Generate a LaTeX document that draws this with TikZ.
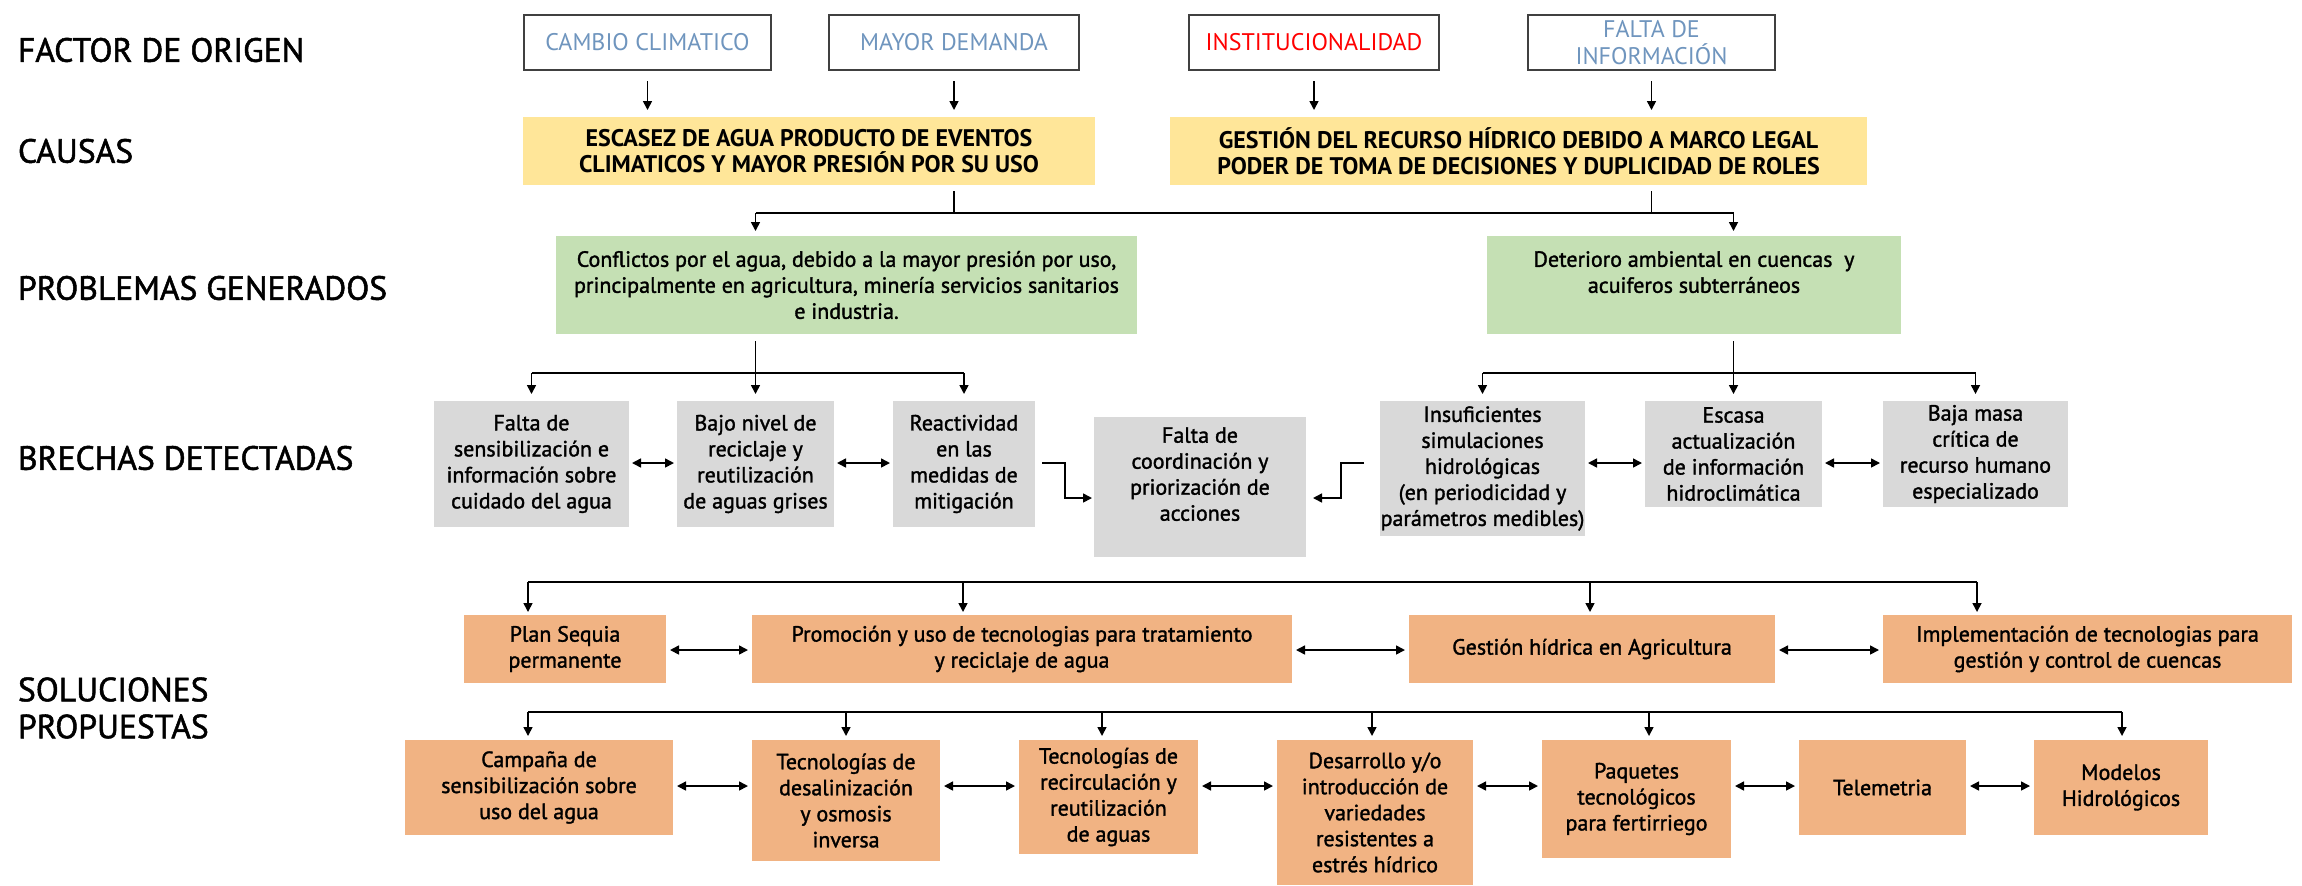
\documentclass[tikz,border=0pt]{standalone}
\usepackage{fontspec}
\setmainfont{PT Sans}
\newfontfamily\medfont{PT Sans}[FakeBold=1.5]
\usetikzlibrary{arrows.meta}

\definecolor{causefill}{HTML}{FFE699}
\definecolor{probfill}{HTML}{C5E0B4}
\definecolor{gapfill}{HTML}{D9D9D9}
\definecolor{solfill}{HTML}{F1B383}
\definecolor{factorblue}{HTML}{6F95BE}

% box from corner (x1,y1) to (x2,y2), units of the picture grid
\newcommand\placebox[7]{%
  \pgfmathsetmacro\bxw{(#5-#3)*0.5}%
  \pgfmathsetmacro\bxh{(#6-#4)*0.5}%
  \node[#2, minimum width=\bxw pt, minimum height=\bxh pt] (#1) at ({(#3+#5)/2},{(#4+#6)/2}) {#7};}

\tikzset{
  every node/.style={inner sep=0pt, outer sep=0pt},
  rowlabel/.style={anchor=west, align=left, font=\medfont\fontsize{16.8}{18.5}\selectfont},
  factor/.style={draw=black!75, line width=0.9pt, fill=white, align=center, text=factorblue,
                 font=\fontsize{12}{13.5}\selectfont},
  cause/.style={fill=causefill, align=center, font=\bfseries\fontsize{12}{13}\selectfont},
  boxtext/.style={align=center, font=\medfont\fontsize{11}{13}\selectfont},
  prob/.style={boxtext, fill=probfill},
  gapbox/.style={boxtext, fill=gapfill},
  solbox/.style={boxtext, fill=solfill},
  ln/.style={line width=0.8pt, draw=black},
  arr/.style={ln, -{Triangle[length=4.5pt,width=4.5pt]}},
  dbl/.style={ln, {Triangle[length=4.5pt,width=4.5pt]}-{Triangle[length=4.5pt,width=4.5pt]}},
}

\begin{document}
\begin{tikzpicture}[x=0.5pt, y=-0.5pt]
\useasboundingbox (0,0) rectangle (2302,885);

% row titles
\node[rowlabel] (lFactor) at (18,50) {FACTOR DE ORIGEN};
\node[rowlabel] (lCausas) at (18,151) {CAUSAS};
\node[rowlabel] (lProb) at (18,288) {PROBLEMAS GENERADOS};
\node[rowlabel] (lBrechas) at (18,458) {BRECHAS DETECTADAS};
\node[rowlabel] (lSol) at (18,708) {SOLUCIONES\\PROPUESTAS};

% origin factors
\placebox{f1}{factor}{524}{15}{771}{70}{CAMBIO CLIMATICO}
\placebox{f2}{factor}{829}{15}{1079}{70}{MAYOR DEMANDA}
\placebox{f3}{factor, text=red}{1189}{15}{1439}{70}{INSTITUCIONALIDAD}
\placebox{f4}{factor}{1528}{15}{1775}{70}{FALTA DE\\INFORMACIÓN}

% causes
\placebox{c1}{cause}{523}{117}{1095}{185}{ESCASEZ DE AGUA PRODUCTO DE EVENTOS\\CLIMATICOS Y MAYOR PRESIÓN POR SU USO}
\placebox{c2}{cause}{1170}{117}{1867}{185}{GESTIÓN DEL RECURSO HÍDRICO DEBIDO A MARCO LEGAL\\PODER DE TOMA DE DECISIONES Y DUPLICIDAD DE ROLES}

% problems
\placebox{p1}{prob}{556}{236}{1137}{334}{Conflictos por el agua, debido a la mayor presión por uso,\\principalmente en agricultura, minería servicios sanitarios\\e industria.}
\placebox{p2}{prob}{1487}{236}{1901}{334}{Deterioro ambiental en cuencas\ \ y\\acuiferos subterráneos\\\mbox{}}

% gaps
\placebox{b1}{gapbox}{434}{401}{629}{527}{Falta de\\sensibilización e\\información sobre\\cuidado del agua}
\placebox{b2}{gapbox}{677}{401}{834}{527}{Bajo nivel de\\reciclaje y\\reutilización\\de aguas grises}
\placebox{b3}{gapbox}{893}{401}{1035}{527}{Reactividad\\en las\\medidas de\\mitigación}
\placebox{b4}{gapbox}{1094}{417}{1306}{557}{Falta de\\coordinación y\\priorización de\\acciones\\\mbox{}}
\placebox{b5}{gapbox}{1380}{401}{1585}{536}{Insuficientes\\simulaciones\\hidrológicas\\(en periodicidad y\\parámetros medibles)}
\placebox{b6}{gapbox}{1645}{401}{1822}{507}{Escasa\\actualización\\de información\\hidroclimática}
\placebox{b7}{gapbox}{1883}{401}{2068}{507}{Baja masa\\crítica de\\recurso humano\\especializado}

% solutions, first row
\placebox{s1}{solbox}{464}{615}{666}{683}{Plan Sequia\\permanente}
\placebox{s2}{solbox}{752}{615}{1292}{683}{Promoción y uso de tecnologias para tratamiento\\y reciclaje de agua}
\placebox{s3}{solbox}{1409}{615}{1775}{683}{Gestión hídrica en Agricultura}
\placebox{s4}{solbox}{1883}{615}{2292}{683}{Implementación de tecnologias para\\gestión y control de cuencas}

% solutions, second row
\placebox{t1}{solbox}{405}{740}{673}{835}{Campaña de\\sensibilización sobre\\uso del agua}
\placebox{t2}{solbox}{752}{740}{940}{861}{Tecnologías de\\desalinización\\y osmosis\\inversa}
\placebox{t3}{solbox}{1019}{740}{1198}{854}{Tecnologías de\\recirculación y\\reutilización\\de aguas}
\placebox{t4}{solbox}{1277}{740}{1473}{885}{Desarrollo y/o\\introducción de\\variedades\\resistentes a\\estrés hídrico}
\placebox{t5}{solbox}{1542}{740}{1731}{858}{Paquetes\\tecnológicos\\para fertirriego}
\placebox{t6}{solbox}{1799}{740}{1966}{835}{Telemetria}
\placebox{t7}{solbox}{2034}{740}{2208}{835}{Modelos\\Hidrológicos}

% factors feed the causes
\foreach \f/\c in {f1/c1, f2/c1, f3/c2, f4/c2}
  \draw[arr, shorten <=5.5pt, shorten >=3.5pt] (\f.south) -- (\f.south |- \c.north);

% causes -> problems
\coordinate (busP) at (0,213);
\draw[ln, shorten <=3pt] (f2.south |- c1.south) -- (f2.south |- busP);
\draw[ln, shorten <=3pt] (f4.south |- c2.south) -- (f4.south |- busP);
\draw[ln] (b2.north |- busP) -- (b6.north |- busP);
\draw[arr, shorten >=2.5pt] (b2.north |- busP) -- (b2.north |- p1.north);
\draw[arr, shorten >=2.5pt] (b6.north |- busP) -- (b6.north |- p2.north);

% problems -> gaps
\coordinate (busG) at (0,373);
\draw[ln, shorten <=3.5pt] (b2.north |- p1.south) -- (b2.north |- busG);
\draw[ln, shorten <=3.5pt] (b6.north |- p2.south) -- (b6.north |- busG);
\draw[ln] (b1.north |- busG) -- (b3.north |- busG);
\draw[ln] (b5.north |- busG) -- (b7.north |- busG);
\foreach \b in {b1,b2,b3,b5,b6,b7}
  \draw[arr, shorten >=3.5pt] (\b.north |- busG) -- (\b.north);

% links between gaps
\coordinate (rowG) at (0,463);
\foreach \a/\b in {b1/b2, b2/b3, b5/b6, b6/b7}
  \draw[dbl, shorten <=1.5pt, shorten >=1.5pt] (\a.east |- rowG) -- (\b.west |- rowG);
\coordinate (elbL) at (1065,498);
\coordinate (elbR) at (1341,498);
\draw[arr, shorten <=3.5pt, shorten >=1pt] (b3.east |- rowG) -| (elbL) -- (b4.west |- elbL);
\draw[arr, shorten <=8pt, shorten >=3.5pt] (b5.west |- rowG) -| (elbR) -- (b4.east |- elbR);

% first row of solutions
\coordinate (sA) at (528,582);
\coordinate (sB) at (963,582);
\coordinate (sC) at (1590,582);
\coordinate (sD) at (1977,582);
\draw[ln] (sA) -- (sD);
\foreach \p/\s in {sA/s1, sB/s2, sC/s3, sD/s4}
  \draw[arr, shorten >=1.5pt] (\p) -- (\p |- \s.north);
\coordinate (rowS) at (0,650);
\foreach \a/\b in {s1/s2, s2/s3, s3/s4}
  \draw[dbl, shorten <=2pt, shorten >=2pt] (\a.east |- rowS) -- (\b.west |- rowS);

% second row of solutions
\coordinate (tA) at (528,712);
\coordinate (tB) at (846,712);
\coordinate (tC) at (1102,712);
\coordinate (tD) at (1372,712);
\coordinate (tE) at (1649,712);
\coordinate (tG) at (2122,712);
\draw[ln] (tA) -- (tG);
\foreach \p/\s in {tA/t1, tB/t2, tC/t3, tD/t4, tE/t5, tG/t7}
  \draw[arr, shorten >=2pt] (\p) -- (\p |- \s.north);
\coordinate (rowT) at (0,786);
\foreach \a/\b in {t1/t2, t2/t3, t3/t4, t4/t5, t5/t6, t6/t7}
  \draw[dbl, shorten <=2pt, shorten >=2pt] (\a.east |- rowT) -- (\b.west |- rowT);
\end{tikzpicture}
\end{document}
